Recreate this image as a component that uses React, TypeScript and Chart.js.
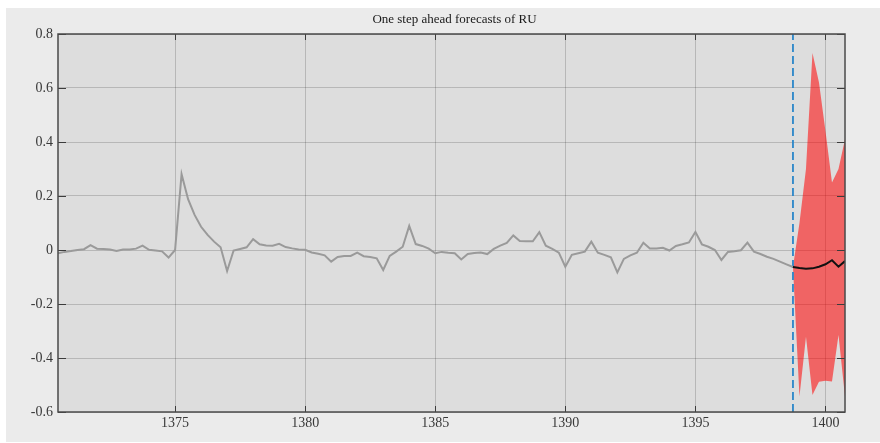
import React, { useEffect, useRef } from 'react';
import { Chart, registerables } from 'chart.js';

Chart.register(...registerables);

const chartTitle = 'One step ahead forecasts of RU';

const historyPeriods = [
  1370.5, 1370.75,
  1371, 1371.25, 1371.5, 1371.75,
  1372, 1372.25, 1372.5, 1372.75,
  1373, 1373.25, 1373.5, 1373.75,
  1374, 1374.25, 1374.5, 1374.75,
  1375, 1375.25, 1375.5, 1375.75,
  1376, 1376.25, 1376.5, 1376.75,
  1377, 1377.25, 1377.5, 1377.75,
  1378, 1378.25, 1378.5, 1378.75,
  1379, 1379.25, 1379.5, 1379.75,
  1380, 1380.25, 1380.5, 1380.75,
  1381, 1381.25, 1381.5, 1381.75,
  1382, 1382.25, 1382.5, 1382.75,
  1383, 1383.25, 1383.5, 1383.75,
  1384, 1384.25, 1384.5, 1384.75,
  1385, 1385.25, 1385.5, 1385.75,
  1386, 1386.25, 1386.5, 1386.75,
  1387, 1387.25, 1387.5, 1387.75,
  1388, 1388.25, 1388.5, 1388.75,
  1389, 1389.25, 1389.5, 1389.75,
  1390, 1390.25, 1390.5, 1390.75,
  1391, 1391.25, 1391.5, 1391.75,
  1392, 1392.25, 1392.5, 1392.75,
  1393, 1393.25, 1393.5, 1393.75,
  1394, 1394.25, 1394.5, 1394.75,
  1395, 1395.25, 1395.5, 1395.75,
  1396, 1396.25, 1396.5, 1396.75,
  1397, 1397.25, 1397.5, 1397.75,
  1398, 1398.25, 1398.5, 1398.75,
];

const ruHistory = [
  -0.012, -0.007,
  -0.004, 0.0, 0.003, 0.018,
  0.005, 0.004, 0.002, -0.004,
  0.002, 0.002, 0.005, 0.016,
  0.001, -0.002, -0.005, -0.028,
  0.0, 0.281, 0.188, 0.13,
  0.086, 0.056, 0.031, 0.01,
  -0.078, -0.002, 0.004, 0.01,
  0.04, 0.021, 0.017, 0.016,
  0.023, 0.011, 0.006, 0.002,
  0.001, -0.009, -0.014, -0.02,
  -0.043, -0.026, -0.022, -0.022,
  -0.01, -0.023, -0.026, -0.031,
  -0.074, -0.022, -0.006, 0.012,
  0.089, 0.022, 0.015, 0.005,
  -0.012, -0.007, -0.01, -0.012,
  -0.035, -0.015, -0.011, -0.009,
  -0.015, 0.004, 0.016, 0.026,
  0.054, 0.033, 0.032, 0.032,
  0.066, 0.016, 0.004, -0.01,
  -0.062, -0.018, -0.012, -0.006,
  0.031, -0.01, -0.018, -0.027,
  -0.083, -0.033, -0.02, -0.01,
  0.027, 0.006, 0.006, 0.008,
  -0.002, 0.015, 0.021, 0.028,
  0.067, 0.021, 0.012, 0.0,
  -0.037, -0.007, -0.005, -0.001,
  0.027, -0.006, -0.015, -0.025,
  -0.033, -0.043, -0.053, -0.063,
];

const forecastPeriods = [1398.75, 1399, 1399.25, 1399.5, 1399.75, 1400, 1400.25, 1400.5, 1400.75];
const forecastMean = [-0.063, -0.067, -0.069, -0.068, -0.062, -0.053, -0.038, -0.062, -0.041];
const forecastUpper = [-0.063, 0.1, 0.3, 0.73, 0.62, 0.44, 0.25, 0.3, 0.41];
const forecastLower = [-0.063, -0.543, -0.321, -0.537, -0.488, -0.484, -0.487, -0.315, -0.543];

const forecastStart = 1398.75;
const xMin = 1370.5;
const xMax = 1400.75;
const yMin = -0.6;
const yMax = 0.8;
const xTickValues = [1375, 1380, 1385, 1390, 1395, 1400];
const yTickValues = [-0.6, -0.4, -0.2, 0, 0.2, 0.4, 0.6, 0.8];

const zip = (xs: number[], ys: number[]) => xs.map((x, i) => ({ x, y: ys[i] }));

const SERIF = '"Liberation Serif", "Times New Roman", serif';

const framePlugin = {
  id: 'frame',
  beforeDraw(chart: any) {
    const { ctx, chartArea: a } = chart;
    ctx.save();
    ctx.fillStyle = '#dddddd';
    ctx.fillRect(a.left, a.top, a.right - a.left, a.bottom - a.top);
    ctx.restore();
  },
  afterDraw(chart: any) {
    const { ctx, chartArea: a } = chart;
    const xs = chart.scales.x;
    const ys = chart.scales.y;
    ctx.save();
    ctx.strokeStyle = '#3c3c3c';
    ctx.lineWidth = 1;
    ctx.beginPath();
    xs.ticks.forEach((t: any) => {
      const px = Math.round(xs.getPixelForValue(t.value)) + 0.5;
      ctx.moveTo(px, a.bottom);
      ctx.lineTo(px, a.bottom - 6);
      ctx.moveTo(px, a.top);
      ctx.lineTo(px, a.top + 6);
    });
    ys.ticks.forEach((t: any) => {
      const py = Math.round(ys.getPixelForValue(t.value)) + 0.5;
      ctx.moveTo(a.left, py);
      ctx.lineTo(a.left + 8, py);
      ctx.moveTo(a.right, py);
      ctx.lineTo(a.right - 8, py);
    });
    ctx.stroke();
    ctx.strokeStyle = '#4a4a4a';
    ctx.lineWidth = 1.5;
    ctx.strokeRect(a.left, a.top, a.right - a.left, a.bottom - a.top);
    ctx.fillStyle = '#1a1a1a';
    ctx.font = `13px ${SERIF}`;
    ctx.textAlign = 'center';
    ctx.textBaseline = 'middle';
    ctx.fillText(chartTitle, (a.left + a.right) / 2 + 3, 12);
    ctx.restore();
  },
};

export default function App() {
  const ref = useRef<HTMLCanvasElement | null>(null);

  useEffect(() => {
    if (!ref.current) return;
    const chart = new Chart(ref.current, {
      type: 'line',
      data: {
        datasets: [
          {
            label: 'lower',
            data: zip(forecastPeriods, forecastLower),
            borderWidth: 0,
            borderColor: 'transparent',
            pointRadius: 0,
            fill: false,
            tension: 0,
            order: 10,
          },
          {
            label: 'upper',
            data: zip(forecastPeriods, forecastUpper),
            borderWidth: 0,
            borderColor: 'transparent',
            backgroundColor: 'rgba(255,0,0,0.55)',
            pointRadius: 0,
            fill: '-1',
            tension: 0,
            order: 9,
          },
          {
            label: 'forecast start',
            data: [
              { x: forecastStart, y: yMin },
              { x: forecastStart, y: yMax },
            ],
            borderColor: '#2a86c9',
            borderWidth: 1.8,
            borderDash: [8, 4],
            pointRadius: 0,
            fill: false,
            order: 5,
          },
          {
            label: 'RU',
            data: zip(historyPeriods, ruHistory),
            borderColor: '#9a9a9a',
            borderWidth: 2,
            pointRadius: 0,
            fill: false,
            tension: 0,
            order: 2,
          },
          {
            label: 'forecast',
            data: zip(forecastPeriods, forecastMean),
            borderColor: '#111111',
            borderWidth: 2,
            pointRadius: 0,
            fill: false,
            tension: 0,
            order: 1,
          },
        ],
      },
      options: {
        animation: false,
        responsive: false,
        devicePixelRatio: 1,
        parsing: true,
        layout: { padding: { left: 0, top: 26, right: 35, bottom: 0 } },
        plugins: {
          legend: { display: false },
          tooltip: { enabled: false },
          title: { display: false },
        },
        scales: {
          x: {
            type: 'linear',
            min: xMin,
            max: xMax,
            afterFit: (s: any) => {
              s.height = 30;
            },
            afterBuildTicks: (s: any) => {
              s.ticks = xTickValues.map((v) => ({ value: v }));
            },
            grid: { color: 'rgba(0,0,0,0.17)', lineWidth: 1, drawTicks: false },
            border: { display: false },
            ticks: {
              padding: 3,
              color: '#383838',
              font: { family: SERIF, size: 14 },
              maxRotation: 0,
              callback: (v: any) => String(v),
            },
          },
          y: {
            type: 'linear',
            min: yMin,
            max: yMax,
            afterFit: (s: any) => {
              s.width = 52;
            },
            afterBuildTicks: (s: any) => {
              s.ticks = yTickValues.map((v) => ({ value: v }));
            },
            grid: { color: 'rgba(0,0,0,0.17)', lineWidth: 1, drawTicks: false },
            border: { display: false },
            ticks: {
              padding: 5,
              color: '#383838',
              font: { family: SERIF, size: 14 },
              callback: (v: any) => (Math.abs(v) < 1e-9 ? '0' : Number(v).toFixed(1)),
            },
          },
        },
      },
      plugins: [framePlugin],
    } as any);
    return () => chart.destroy();
  }, []);

  return (
    <div
      style={{
        position: 'absolute',
        left: 6,
        top: 8,
        width: 874,
        height: 434,
        background: '#ebebeb',
      }}
    >
      <canvas ref={ref} width={874} height={434} style={{ display: 'block', width: 874, height: 434 }} />
    </div>
  );
}
